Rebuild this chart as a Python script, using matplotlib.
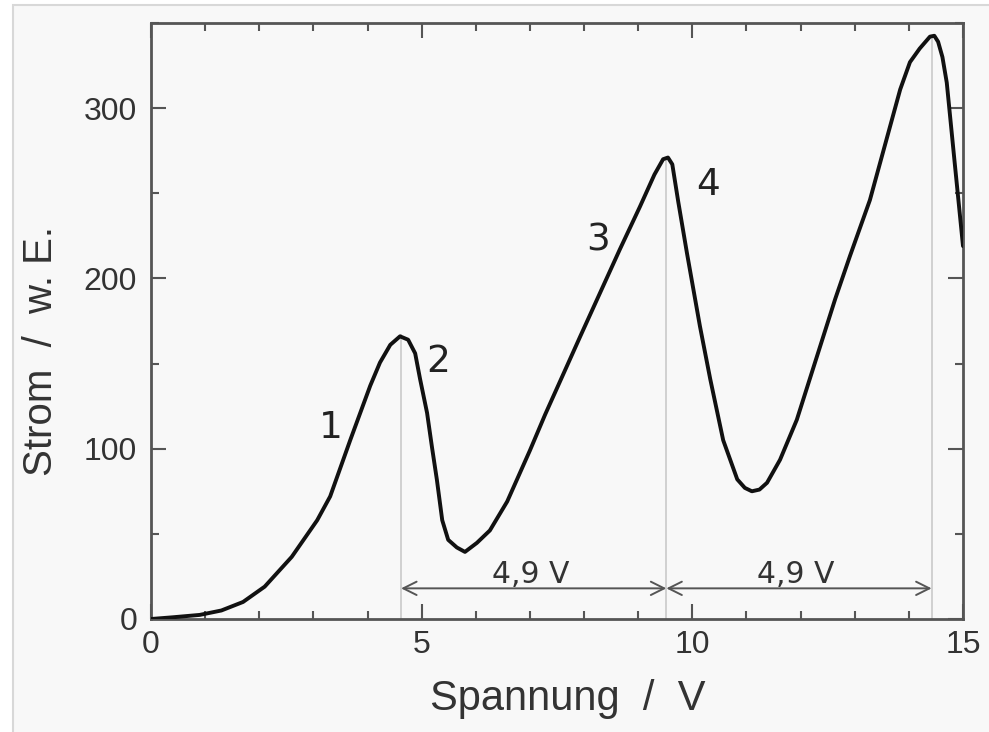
import matplotlib
matplotlib.use("Agg")
import matplotlib.pyplot as plt
from matplotlib.patches import Rectangle
from matplotlib.ticker import MultipleLocator

# Franck-Hertz Kurve
spannung = [0, 0.4, 0.9, 1.3, 1.7, 2.1, 2.6, 3.07, 3.31, 3.68, 4.05, 4.23,
            4.42, 4.60, 4.75, 4.88, 4.97, 5.10, 5.19, 5.28, 5.38, 5.49, 5.65,
            5.80, 6.02, 6.26, 6.58, 7.0, 7.28, 7.93, 8.66, 9.03, 9.30, 9.46,
            9.55, 9.63, 9.74, 9.90, 10.14, 10.33, 10.57, 10.83, 10.97, 11.1,
            11.24, 11.38, 11.62, 11.93, 12.17, 12.64, 12.91, 13.28, 13.84,
            14.02, 14.2, 14.39, 14.47, 14.54, 14.62, 14.7, 14.84, 15.0]
strom = [0, 1, 2.4, 5, 10, 19, 36.5, 58, 72, 105, 137, 150.6,
         161, 166, 164, 156, 141, 121, 101, 82, 58, 46.5, 42,
         39.4, 44.7, 52, 69, 99, 120, 166, 217, 242, 261, 270,
         271, 267, 245, 215, 172, 141, 105, 82, 77, 75,
         76, 80, 93.5, 117, 141, 188, 213, 246, 311,
         327, 335, 342, 342.5, 339, 330, 315, 270, 219]

maxima_x = [4.62, 9.52, 14.42]
maxima_y = [167, 271, 342]
abstand_label = "4,9 V"
nummern = ["1", "2", "3", "4"]

bg = "#f8f8f8"
grau = "#555555"
textfarbe = "#333333"

fig = plt.figure(figsize=(9.89, 7.32), dpi=100)
fig.patches.append(Rectangle((13 / 989, -0.01), 1.0, 1 - 5 / 732 + 0.01,
                             transform=fig.transFigure, facecolor=bg,
                             edgecolor="#d8d8d8", linewidth=1.5, zorder=-10))
ax = fig.add_axes([151 / 989, 113 / 732, 812 / 989, 596 / 732])
ax.set_facecolor(bg)

# graue Linien an den Maxima
for xm, ym in zip(maxima_x, maxima_y):
    ax.plot([xm, xm], [0, ym], color="#d0d0d0", lw=1.4, zorder=1)

ax.plot(spannung, strom, color="#111111", lw=2.8, solid_capstyle="round",
        solid_joinstyle="round", zorder=3)

# Pfeile 4,9 V
pfeil_y = 18
for x0, x1 in zip(maxima_x[:-1], maxima_x[1:]):
    ax.annotate("", xy=(x0, pfeil_y), xytext=(x1, pfeil_y),
                arrowprops=dict(arrowstyle="<->", color=grau, lw=1.4,
                                mutation_scale=24, shrinkA=0, shrinkB=0))
    ax.text((x0 + x1) / 2 - 0.06, pfeil_y + 3, abstand_label, ha="center",
            va="baseline", fontsize=21.5, color=textfarbe,
            family="DejaVu Sans")

# Nummern an der Kurve
for txt, (tx, ty) in zip(nummern,
                         [(3.33, 112), (5.30, 151), (8.26, 222), (10.29, 255)]):
    ax.text(tx, ty, txt, ha="center", va="center", fontsize=27,
            color="#222222", family="DejaVu Sans")

ax.set_xlim(0, 15)
ax.set_ylim(0, 350)
ax.xaxis.set_major_locator(MultipleLocator(5))
ax.xaxis.set_minor_locator(MultipleLocator(1))
ax.yaxis.set_major_locator(MultipleLocator(100))
ax.yaxis.set_minor_locator(MultipleLocator(50))
ax.tick_params(which="both", direction="in", top=True, right=True,
               color=grau, width=1.5, labelcolor=textfarbe, labelsize=23)
ax.tick_params(axis="x", pad=8)
ax.tick_params(axis="y", pad=10)
ax.tick_params(which="major", length=11)
ax.tick_params(which="minor", length=6)
for lab in ax.get_xticklabels() + ax.get_yticklabels():
    lab.set_family("Liberation Sans")
for sp in ax.spines.values():
    sp.set_color(grau)
    sp.set_linewidth(2)

ax.set_xlabel("Spannung  /  V", fontsize=30, family="Liberation Sans",
              color=textfarbe)
ax.set_ylabel("Strom  /  w. E.", fontsize=29, family="Liberation Sans",
              color=textfarbe)
ax.xaxis.set_label_coords(0.5135, -0.100)
ax.yaxis.set_label_coords(-0.112, 0.45)

fig.savefig("out.png", dpi=100, facecolor="white")
